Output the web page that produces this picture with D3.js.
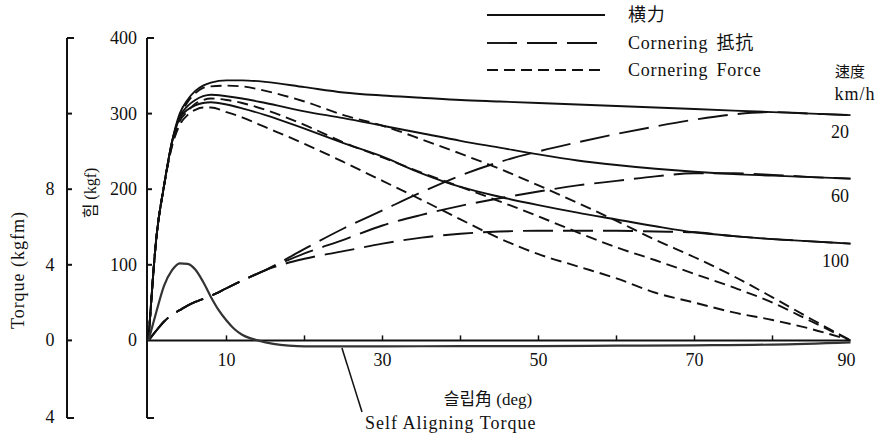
<!DOCTYPE html>
<html lang="ko">
<head>
  <meta charset="UTF-8">
  <title>횡력 / Cornering Force / Self Aligning Torque</title>
  <script src="https://d3js.org/d3.v7.min.js"></script>
  <style>
    body { margin: 0; background: #fff; }
    text { font-family: "Liberation Serif", "Noto Sans CJK KR", serif; fill: #111; }
    .cjk { font-family: "Liberation Serif", "Noto Sans CJK JP", "Noto Sans CJK KR", serif; }
  </style>
</head>
<body>
  <script>
    // slip angle (deg) samples shared by the force curves
    const slip = [0, 1, 2, 3, 4, 5, 6, 7, 8, 10, 12, 15, 20, 25, 30, 35, 40, 45, 50, 55, 60, 65, 70, 75, 80, 85, 90];

    // 横力 (lateral force, kgf)
    const lateral20  = [0, 135, 205, 262, 300, 318, 330, 337, 341, 344, 344, 342, 335, 328, 324, 321, 318, 316, 314, 312, 310, 308, 306, 304, 302, 300, 298];
    const lateral60  = [0, 135, 205, 262, 296, 310, 318, 323, 325, 323, 320, 314, 303, 294, 284, 274, 264, 255, 246, 238, 232, 227, 223, 220, 218, 216, 214];
    const lateral100 = [0, 135, 205, 262, 294, 305, 311, 314, 315, 312, 307, 298, 280, 261, 243, 221, 203, 190, 179, 169, 160, 151, 143, 138, 134, 131, 128];

    // Cornering 抵抗 (kgf)
    const resist20  = [0, 13, 25, 34, 40, 46, 51, 55, 59, 69, 79, 93, 121, 148, 172, 196, 218, 236, 250, 262, 273, 283, 292, 299, 302, 300, 298];
    const resist60  = [0, 13, 25, 34, 40, 46, 51, 55, 59, 69, 79, 93, 115, 133, 152, 166, 178, 188, 197, 205, 211, 217, 221, 221, 219, 216, 214];
    const resist100 = [0, 13, 25, 34, 40, 46, 51, 55, 59, 69, 79, 93, 108, 118, 128, 136, 141, 144, 145, 145, 145, 144, 143, 138, 134, 131, 128];

    // Cornering Force (kgf)
    const cforce20  = [0, 135, 205, 260, 296, 315, 327, 334, 336, 337, 336, 330, 316, 298, 284, 266, 247, 227, 205, 182, 158, 133, 110, 85, 57, 28, 0];
    const cforce60  = [0, 135, 205, 258, 290, 303, 313, 318, 320, 318, 314, 305, 285, 262, 242, 222, 203, 184, 164, 143, 123, 106, 88, 70, 50, 25, 0];
    const cforce100 = [0, 135, 205, 256, 285, 298, 305, 308, 308, 302, 295, 282, 260, 236, 211, 186, 160, 135, 114, 98, 82, 63, 50, 37, 27, 15, 0];

    // Self Aligning Torque (kgfm)
    const satSlip = [0, 1, 2, 3, 4, 5, 6, 7, 8, 9, 10, 11, 12, 13, 14, 16, 18, 20, 30, 40, 50, 60, 70, 80, 90];
    const satVals = [0, 1.5, 2.9, 3.7, 4.08, 4.05, 3.75, 3.1, 2.3, 1.6, 1.05, 0.6, 0.3, 0.12, 0, -0.18, -0.28, -0.32, -0.32, -0.3, -0.3, -0.28, -0.26, -0.22, -0.1];

    const speeds = ['20', '60', '100'];
    const xTickVals = [10, 20, 30, 40, 50, 60, 70, 80];
    const xLabelVals = [10, 30, 50, 70, 90];
    const forceTicks = [100, 200, 300, 400];
    const torqueTicks = [-4, 0, 4, 8, 12, 16];
    const torqueLabels = [-4, 0, 4, 8];

    const w = 878, h = 433;

    const svg = d3.select('body').append('svg')
      .attr('width', w)
      .attr('height', h);

    const x = d3.scaleLinear().domain([0, 90]).range([148.5, 850.5]);
    const yF = d3.scaleLinear().domain([-100, 400]).range([416, 38]);
    const yT = d3.scaleLinear().domain([-4, 16]).range([416, 38]);

    const ink = '#111';

    // axes
    const forceAxisX = 147, torqueAxisX = 67;
    svg.append('line')
      .attr('x1', forceAxisX).attr('x2', forceAxisX)
      .attr('y1', yF(400)).attr('y2', yF(-100) + 2)
      .attr('stroke', ink).attr('stroke-width', 2);
    svg.append('line')
      .attr('x1', torqueAxisX).attr('x2', torqueAxisX)
      .attr('y1', yT(16)).attr('y2', yT(-4) + 2)
      .attr('stroke', ink).attr('stroke-width', 2);

    // force ticks
    svg.selectAll('.ftick')
      .data(forceTicks.concat([-100]))
      .enter().append('line')
      .attr('x1', forceAxisX).attr('x2', d => forceAxisX + (d === 400 || d === -100 ? 7 : 5))
      .attr('y1', d => yF(d) + (d === -100 ? 2 : 0)).attr('y2', d => yF(d) + (d === -100 ? 2 : 0))
      .attr('stroke', ink).attr('stroke-width', 2);
    svg.selectAll('.flabel')
      .data([0].concat(forceTicks))
      .enter().append('text')
      .attr('x', 137).attr('y', d => yF(d) + 6)
      .attr('text-anchor', 'end')
      .attr('font-size', 18)
      .text(d => d);

    // torque ticks
    svg.selectAll('.ttick')
      .data(torqueTicks)
      .enter().append('line')
      .attr('x1', torqueAxisX).attr('x2', d => torqueAxisX + (d === 16 || d === -4 ? 7 : 5))
      .attr('y1', d => yT(d) + (d === -4 ? 2 : 0)).attr('y2', d => yT(d) + (d === -4 ? 2 : 0))
      .attr('stroke', ink).attr('stroke-width', 2);
    svg.selectAll('.tlabel')
      .data(torqueLabels)
      .enter().append('text')
      .attr('x', 50).attr('y', d => yT(d) + 6 + (d === -4 ? 1 : 0))
      .attr('text-anchor', 'middle')
      .attr('font-size', 18)
      .text(d => Math.abs(d));

    // x axis
    svg.append('line')
      .attr('x1', x(0) - 1).attr('x2', x(90))
      .attr('y1', yF(0)).attr('y2', yF(0))
      .attr('stroke', ink).attr('stroke-width', 2);
    svg.selectAll('.xtick')
      .data(xTickVals)
      .enter().append('line')
      .attr('x1', d => x(d)).attr('x2', d => x(d))
      .attr('y1', yF(0)).attr('y2', yF(0) - 5)
      .attr('stroke', ink).attr('stroke-width', 1.5);
    svg.selectAll('.xlabel')
      .data(xLabelVals)
      .enter().append('text')
      .attr('x', d => x(d) - (d === 90 ? 4 : 0)).attr('y', 366)
      .attr('text-anchor', 'middle')
      .attr('font-size', 18)
      .text(d => d);

    // axis titles
    svg.append('text')
      .attr('transform', 'translate(24,270) rotate(-90)')
      .attr('text-anchor', 'middle')
      .attr('font-size', 18)
      .attr('letter-spacing', 1)
      .text('Torque (kgfm)');
    svg.append('text')
      .attr('transform', 'translate(96,193) rotate(-90)')
      .attr('text-anchor', 'middle')
      .attr('font-size', 16)
      .text('힘 (kgf)');
    svg.append('text')
      .attr('x', 488).attr('y', 405)
      .attr('text-anchor', 'middle')
      .attr('font-size', 17)
      .text('슬립角 (deg)');

    // curves
    const line = (xs) => d3.line()
      .x((d, i) => x(xs[i]))
      .y(d => yF(d))
      .curve(d3.curveMonotoneX);

    const groups = [
      { data: [lateral20, lateral60, lateral100], dash: null },
      { data: [resist20, resist60, resist100], dash: '30,10' },
      { data: [cforce20, cforce60, cforce100], dash: '11,6' }
    ];

    groups.forEach(g => {
      svg.append('g').selectAll('path')
        .data(g.data)
        .enter().append('path')
        .attr('d', d => line(slip)(d))
        .attr('fill', 'none')
        .attr('stroke', ink)
        .attr('stroke-width', 1.9)
        .attr('stroke-dasharray', g.dash);
    });

    // self aligning torque
    svg.append('path')
      .attr('d', d3.line()
        .x((d, i) => x(satSlip[i]))
        .y(d => yT(d))
        .curve(d3.curveMonotoneX)(satVals))
      .attr('fill', 'none')
      .attr('stroke', '#333')
      .attr('stroke-width', 2.2);

    svg.append('line')
      .attr('x1', x(24.8)).attr('y1', yT(-0.4))
      .attr('x2', 362).attr('y2', 412)
      .attr('stroke', ink).attr('stroke-width', 1.5);
    svg.append('text')
      .attr('x', 365).attr('y', 429)
      .attr('font-size', 18)
      .attr('letter-spacing', 1)
      .text('Self Aligning Torque');

    // speed labels
    const endVals = [lateral20[lateral20.length - 1], lateral60[lateral60.length - 1], lateral100[lateral100.length - 1]];
    svg.selectAll('.spd')
      .data(speeds)
      .enter().append('text')
      .attr('x', 849).attr('y', (d, i) => yF(endVals[i]) + 23)
      .attr('text-anchor', 'end')
      .attr('font-size', 18)
      .text(d => d);
    svg.append('text')
      .attr('class', 'cjk')
      .attr('x', 850).attr('y', 77)
      .attr('text-anchor', 'middle')
      .attr('font-size', 15)
      .text('速度');
    svg.append('text')
      .attr('x', 855).attr('y', 100)
      .attr('text-anchor', 'middle')
      .attr('font-size', 18)
      .attr('letter-spacing', 1)
      .text('km/h');

    // legend
    const legend = [
      { label: '横力', dash: null, y: 15 },
      { label: 'Cornering 抵抗', dash: '30,10', y: 43 },
      { label: 'Cornering Force', dash: '11,6', y: 70 }
    ];
    const lg = svg.append('g');
    lg.selectAll('line')
      .data(legend)
      .enter().append('line')
      .attr('x1', 487).attr('x2', 605)
      .attr('y1', d => d.y).attr('y2', d => d.y)
      .attr('stroke', ink).attr('stroke-width', 1.9)
      .attr('stroke-dasharray', d => d.dash);
    lg.selectAll('text')
      .data(legend)
      .enter().append('text')
      .attr('class', 'cjk')
      .attr('x', 628).attr('y', d => d.y + 6)
      .attr('font-size', 18)
      .attr('letter-spacing', 0.8)
      .attr('word-spacing', 3)
      .text(d => d.label);
  </script>
</body>
</html>
